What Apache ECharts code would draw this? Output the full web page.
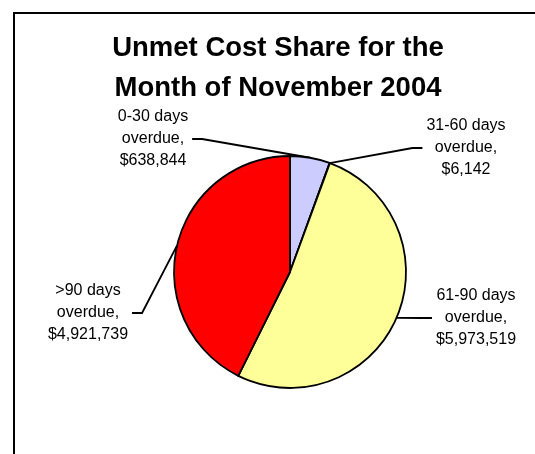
<!DOCTYPE html>
<html>
<head>
<meta charset="utf-8">
<script src="https://cdn.jsdelivr.net/npm/echarts@6/dist/echarts.min.js"></script>
<style>
html, body { margin: 0; padding: 0; background: #fff; }
#chart { width: 535px; height: 454px; }
</style>
</head>
<body>
<div id="chart"></div>
<script>
var categories = ['0-30 days', '31-60 days', '61-90 days', '>90 days'];
var amounts = [638844, 6142, 5973519, 4921739];
var sliceColors = ['#CCCCFF', '#993366', '#FFFF99', '#FF0000'];
// centre of each label block, as placed in the original
var labelSpots = [[153, 139], [466, 148], [476, 318], [88, 313]];

function money(v) {
    return '$' + v.toLocaleString('en-US');
}

var data = [];
for (var i = 0; i < categories.length; i++) {
    data.push({
        name: categories[i],
        value: amounts[i],
        itemStyle: { color: sliceColors[i] }
    });
}

var chart = echarts.init(document.getElementById('chart'));

chart.setOption({
    animation: false,
    backgroundColor: '#fff',
    title: {
        text: 'Unmet Cost Share for the\nMonth of November 2004',
        left: 278,
        textAlign: 'center',
        top: 28,
        padding: 0,
        textStyle: {
            fontFamily: 'Liberation Sans, Arial, sans-serif',
            fontWeight: 'bold',
            fontSize: 27.5,
            lineHeight: 40,
            color: '#000'
        }
    },
    graphic: [
        { type: 'line', shape: { x1: 13, y1: 13, x2: 535, y2: 13 }, style: { stroke: '#000', lineWidth: 2 } },
        { type: 'line', shape: { x1: 14, y1: 12, x2: 14, y2: 454 }, style: { stroke: '#000', lineWidth: 2 } }
    ],
    series: [
        {
            type: 'pie',
            center: [290, 272],
            radius: 116,
            startAngle: 90,
            clockwise: true,
            avoidLabelOverlap: false,
            emphasis: { disabled: true },
            itemStyle: {
                borderColor: '#000',
                borderWidth: 1.8
            },
            label: {
                show: true,
                position: 'outside',
                fontFamily: 'Liberation Sans, Arial, sans-serif',
                fontSize: 16,
                lineHeight: 22,
                color: '#000',
                align: 'center',
                formatter: function(p) {
                    return p.name + '\noverdue,\n' + money(p.value);
                }
            },
            labelLine: {
                show: true,
                length: 10,
                length2: 10,
                lineStyle: { color: '#000', width: 1.8 }
            },
            labelLayout: function(params) {
                var spot = labelSpots[params.dataIndex];
                var out = {
                    x: spot[0],
                    y: spot[1],
                    align: 'center',
                    verticalAlign: 'middle'
                };
                var pts = params.labelLinePoints;
                if (pts && pts.length) {
                    var a = pts[0];
                    var side = spot[0] < a[0] ? 1 : -1;
                    var ex = spot[0] + side * (params.labelRect.width / 2 + 4);
                    out.labelLinePoints = [a, [ex + side * 10, spot[1]], [ex, spot[1]]];
                }
                return out;
            },
            data: data
        }
    ]
});
</script>
</body>
</html>
